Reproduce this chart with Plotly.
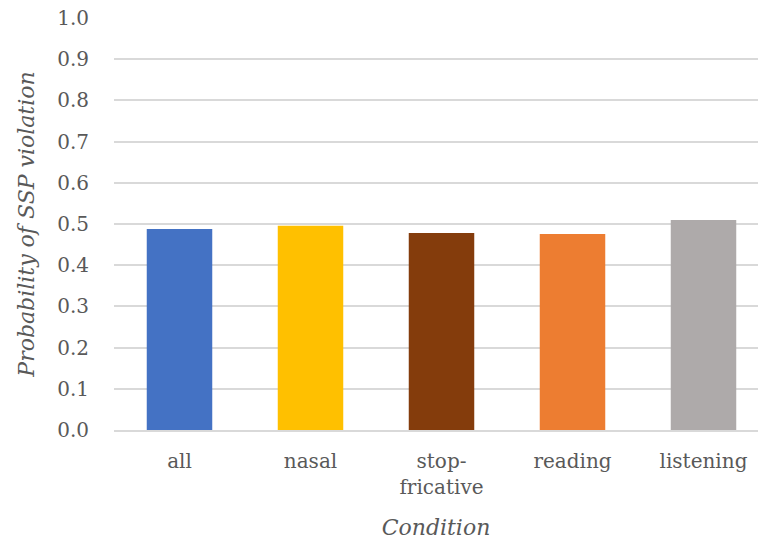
import plotly.graph_objects as go

# Probability of SSP violation by condition
conditions = ["all", "nasal", "stop-<br>fricative", "reading", "listening"]
probabilities = [0.488, 0.496, 0.478, 0.476, 0.510]
bar_colors = ["#4472C4", "#FFC000", "#843C0C", "#ED7D31", "#AEAAAA"]
y_ticks = [round(0.1 * i, 1) for i in range(11)]
y_tick_labels = [f"{v:.1f}" for v in y_ticks]

FONT = "DejaVu Serif"
GREY = "#595959"

fig = go.Figure(
    go.Bar(
        x=list(range(len(conditions))),
        y=probabilities,
        marker=dict(color=bar_colors, line=dict(width=0)),
        width=0.5,
    )
)

fig.update_layout(
    width=758,
    height=545,
    margin=dict(l=114, r=0, t=18, b=115),
    paper_bgcolor="white",
    plot_bgcolor="white",
    showlegend=False,
    font=dict(family=FONT, color=GREY, size=20),
)

fig.update_xaxes(
    tickmode="array",
    tickvals=list(range(len(conditions))),
    ticktext=conditions,
    range=[-0.5, 4.416],
    showgrid=False,
    showline=True,
    linecolor="#D9D9D9",
    linewidth=2,
    ticks="outside",
    ticklen=12,
    tickcolor="rgba(0,0,0,0)",
    tickfont=dict(family=FONT, size=20, color=GREY),
    title=dict(
        text="<i>Condition</i>",
        font=dict(family=FONT, size=22, color=GREY),
        standoff=22,
    ),
)

fig.update_yaxes(
    range=[0, 1.0],
    tickmode="array",
    tickvals=y_ticks,
    ticktext=y_tick_labels,
    showgrid=True,
    gridcolor="#D9D9D9",
    gridwidth=1.5,
    zeroline=False,
    showline=False,
    ticks="outside",
    ticklen=20,
    tickcolor="rgba(0,0,0,0)",
    tickfont=dict(family=FONT, size=20, color=GREY),
    title=dict(
        text="<i>Probability of SSP violation</i>",
        font=dict(family=FONT, size=22, color=GREY),
        standoff=16,
    ),
)

fig.write_html("out.html")
